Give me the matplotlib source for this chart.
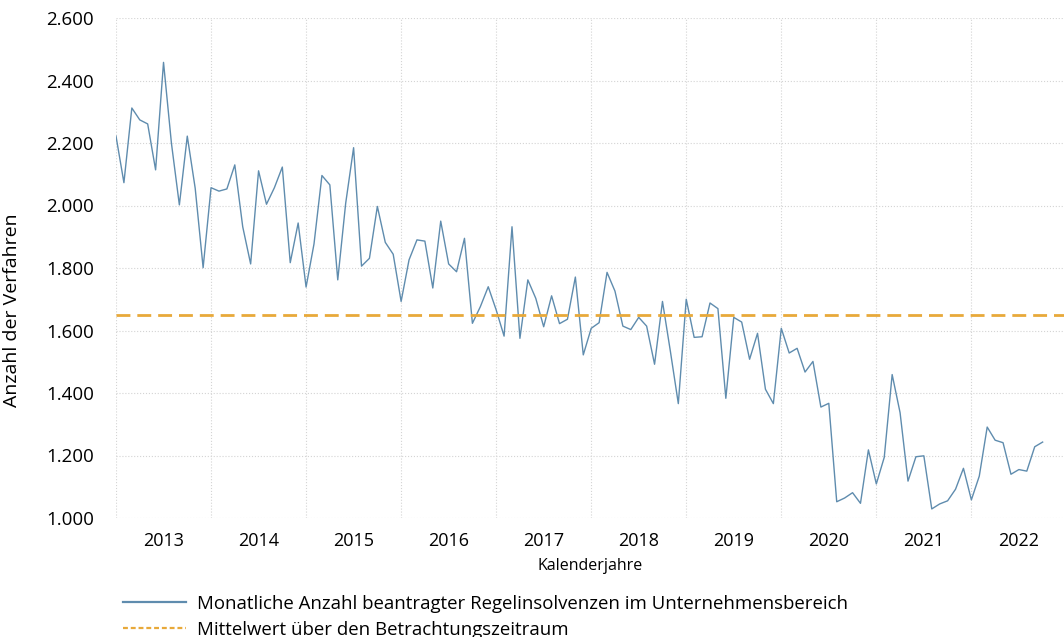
import numpy as np
import matplotlib
matplotlib.use('Agg')
import matplotlib.pyplot as plt
from matplotlib.lines import Line2D
from matplotlib.ticker import FuncFormatter, FixedLocator

# monatliche Werte Jan 2013 - Okt 2022
werte = [
    2222, 2073, 2312, 2274, 2261, 2114, 2458, 2199, 2002, 2222, 2055, 1801,
    2057, 2046, 2053, 2130, 1932, 1813, 2111, 2004, 2057, 2123, 1817, 1944,
    1739, 1877, 2096, 2066, 1762, 2007, 2185, 1806, 1831, 1997, 1882, 1844,
    1693, 1826, 1890, 1886, 1736, 1950, 1813, 1788, 1895, 1623, 1676, 1740,
    1666, 1582, 1932, 1575, 1762, 1703, 1612, 1711, 1622, 1636, 1771, 1522,
    1607, 1625, 1786, 1726, 1614, 1603, 1642, 1614, 1492, 1693, 1533, 1366,
    1700, 1578, 1580, 1688, 1670, 1383, 1642, 1627, 1508, 1591, 1412, 1366,
    1607, 1528, 1543, 1467, 1501, 1355, 1367, 1052, 1064, 1081, 1047, 1218,
    1109, 1194, 1459, 1337, 1118, 1196, 1199, 1029, 1045, 1055, 1092, 1159,
    1058, 1134, 1291, 1249, 1241, 1140, 1155, 1150, 1228, 1243,
]
mittelwert = 1650
jahre = list(range(2013, 2023))

font = 'Open Sans'
blau = '#5f8cae'
orange = '#e8a93a'

x = 2013 + np.arange(len(werte)) / 12

fig = plt.figure(figsize=(10.64, 6.37), dpi=100)
ax = fig.add_axes([116/1064, 1 - 518/637, 1 - 116/1064, (518 - 18)/637])

ax.plot(x, werte, color=blau, lw=1.0)
ax.axhline(mittelwert, color=orange, lw=2.0, ls=(0, (5, 2.5)))

ax.set_xlim(2013, 2013 + 948/95.04)
ax.set_ylim(1000, 2600)
ax.set_yticks(np.arange(1000, 2601, 200))
ax.yaxis.set_major_formatter(FuncFormatter(lambda v, p: f'{int(v):,}'.replace(',', '.')))

ax.xaxis.set_major_locator(FixedLocator(jahre))
ax.xaxis.set_major_formatter(FuncFormatter(lambda v, p: ''))
ax.set_xticks([j + 0.5 for j in jahre], minor=True)
ax.set_xticklabels([str(j) for j in jahre], minor=True, fontfamily=font, fontsize=13)
ax.tick_params(axis='x', which='both', length=0, pad=10)
ax.tick_params(axis='y', length=0, pad=16, labelsize=13.5)
for t in ax.get_yticklabels():
    t.set_fontfamily(font)

ax.grid(True, which='major', color='#d4d4d4', ls=':', lw=0.8)
for s in ax.spines.values():
    s.set_visible(False)

ax.set_ylabel('Anzahl der Verfahren', fontfamily=font, fontsize=14, labelpad=12)
ax.yaxis.set_label_coords(-0.1, 0.416)
ax.set_xlabel('Kalenderjahre', fontfamily=font, fontsize=11.5, labelpad=6)

handles = [Line2D([], [], color=blau, lw=1.6),
           Line2D([], [], color=orange, lw=1.6, ls=(0, (2.2, 1.3)))]
labels = ['Monatliche Anzahl beantragter Regelinsolvenzen im Unternehmensbereich',
          'Mittelwert über den Betrachtungszeitraum']
fig.legend(handles, labels, loc='upper left', bbox_to_anchor=(106/1064, 1 - 578/637),
           frameon=False, handlelength=3.4, handletextpad=0.6, labelspacing=0.42,
           prop={'family': font, 'size': 13.4})

fig.savefig('out.png', dpi=100)
